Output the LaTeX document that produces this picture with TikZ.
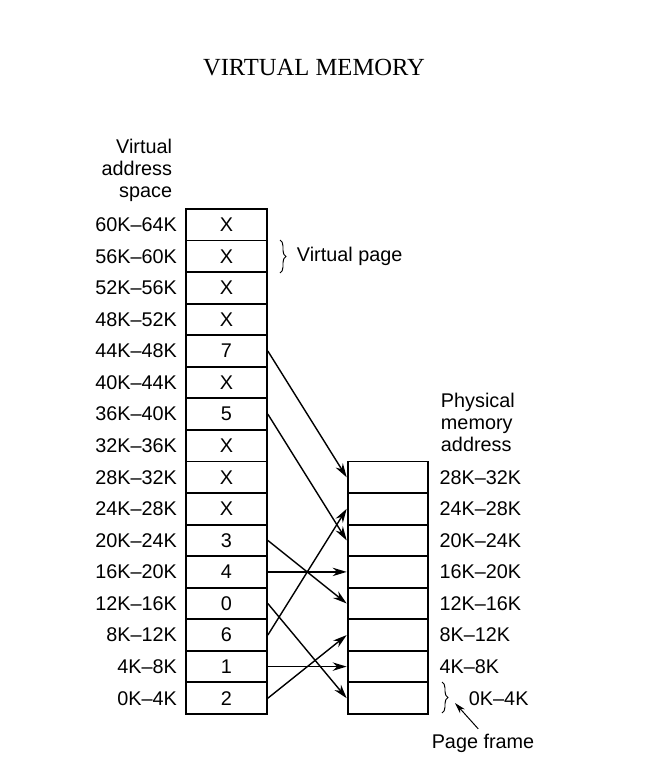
\documentclass[tikz,border=0pt]{standalone}
\usepackage{fontspec}
\setmainfont{Liberation Serif}
\setsansfont{Liberation Sans}
\usetikzlibrary{arrows.meta,decorations.pathreplacing}
\newcommand{\lblfont}{\fontsize{14.1}{15.6}\selectfont\sffamily}
\newcommand{\ttlfont}{\fontsize{17.5}{20}\selectfont\rmfamily}

\begin{document}
\begin{tikzpicture}[x=0.25cm,y=-0.25cm,font=\lblfont,
          cell/.style={draw,line width=1.3pt,minimum width=2.02cm,
            minimum height=0.789cm,inner sep=0pt},
          vcell/.style={cell,label={[inner sep=0pt,label distance=0.2cm]left:#1}},
          pcell/.style={cell,label={[inner sep=0pt,label distance=0.25cm]right:#1}},
          map/.style={-{Stealth[length=10pt,width=6pt]},line width=1pt},
          pointer/.style={-{Stealth[length=8pt,width=4.5pt]},line width=0.7pt},
          curly/.style={decorate,decoration={brace,amplitude=0.15cm},line width=0.7pt}]
        \useasboundingbox (0,0) rectangle (67.1,77.6);
        \node[font=\ttlfont] (title) at (31.4,6.8) {VIRTUAL MEMORY};

        \node[align=right,anchor=east] (vhead) at (17.7,17.0)
          {Virtual\\address\\space};
        \node[vcell=60K–64K] (v15) at (22.65,22.48) {X};
        \node[vcell=56K–60K] (v14) at (22.65,25.63) {X};
        \node[vcell=52K–56K] (v13) at (22.65,28.79) {X};
        \node[vcell=48K–52K] (v12) at (22.65,31.95) {X};
        \node[vcell=44K–48K] (v11) at (22.65,35.10) {7};
        \node[vcell=40K–44K] (v10) at (22.65,38.26) {X};
        \node[vcell=36K–40K] (v9) at (22.65,41.41) {5};
        \node[vcell=32K–36K] (v8) at (22.65,44.57) {X};
        \node[vcell=28K–32K] (v7) at (22.65,47.73) {X};
        \node[vcell=24K–28K] (v6) at (22.65,50.88) {X};
        \node[vcell=20K–24K] (v5) at (22.65,54.04) {3};
        \node[vcell=16K–20K] (v4) at (22.65,57.19) {4};
        \node[vcell=12K–16K] (v3) at (22.65,60.35) {0};
        \node[vcell=8K–12K] (v2) at (22.65,63.51) {6};
        \node[vcell=4K–8K] (v1) at (22.65,66.66) {1};
        \node[vcell=0K–4K] (v0) at (22.65,69.82) {2};

        \draw[curly] (28.0,24.0) -- (28.0,27.3);
        \node[anchor=west] (vpage) at (29.2,25.6) {Virtual page};

        \node[align=left,anchor=west] (phead) at (43.6,42.2)
          {Physical\\memory\\address};
        \node[pcell=28K–32K] (p7) at (38.8,47.73) {};
        \node[pcell=24K–28K] (p6) at (38.8,50.88) {};
        \node[pcell=20K–24K] (p5) at (38.8,54.04) {};
        \node[pcell=16K–20K] (p4) at (38.8,57.19) {};
        \node[pcell=12K–16K] (p3) at (38.8,60.35) {};
        \node[pcell=8K–12K] (p2) at (38.8,63.51) {};
        \node[pcell=4K–8K] (p1) at (38.8,66.66) {};
        \node[cell] (p0) at (38.8,69.82) {};
        \node[anchor=west] (f0) at (46.4,69.82) {0K–4K};

        % page table entries point at their frames
        \draw[map] (v11.east) -- (p7.west);
        \draw[map] (v9.east) -- (p5.west);
        \draw[map] (v5.east) -- (p3.west);
        \draw[map] (v4.east) -- (p4.west);
        \draw[map] (v3.east) -- (p0.west);
        \draw[map] (v2.east) -- (p6.west);
        \draw[map] (v1.east) -- (p1.west);
        \draw[map] (v0.east) -- (p2.west);

        \draw[curly] (44.2,68.2) -- (44.2,71.3);
        \coordinate (ftip) at (45.5,70.3);
        \node (pframe) at (48.3,74.3) {Page frame};
        \draw[pointer] ([xshift=-0.12cm]pframe.north) -- (ftip);
      \end{tikzpicture}
\end{document}
